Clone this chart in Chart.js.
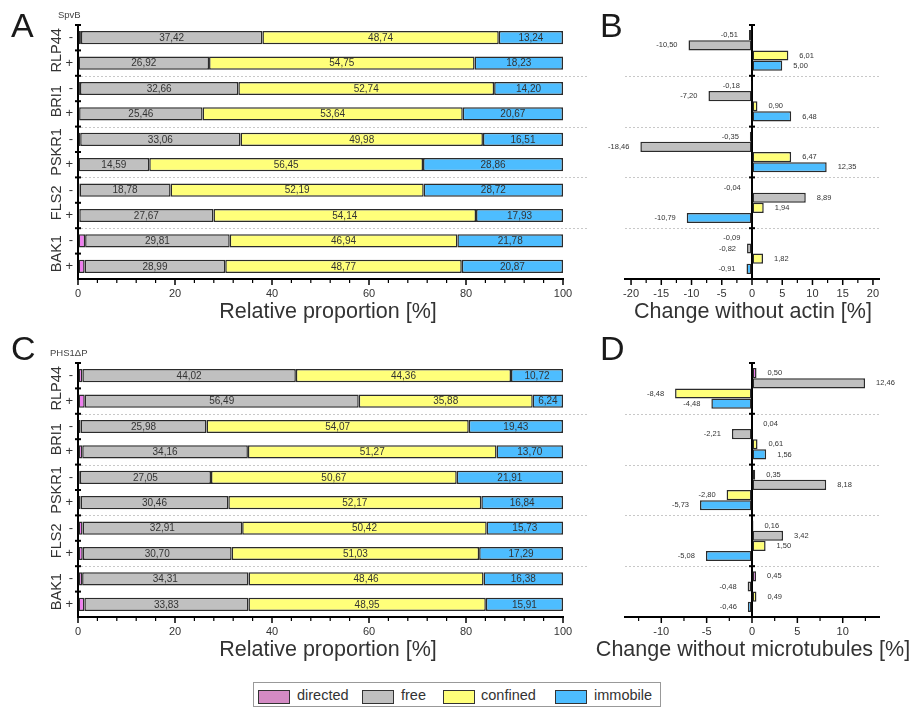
<!DOCTYPE html>
<html>
<head>
<meta charset="utf-8">
<script src="https://cdn.jsdelivr.net/npm/chart.js@4.4.1/dist/chart.umd.min.js"></script>
<style>
body{margin:0;background:#fff;font-family:'Liberation Sans',Arial,sans-serif;color:#333}
#wrap{position:relative;width:910px;height:707px;overflow:hidden;background:#fff}
canvas{position:absolute}
.letter{position:absolute;font-size:34px;line-height:34px;color:#1a1a1a}
.tag{position:absolute;font-size:9.5px;line-height:9.5px;color:#444;white-space:nowrap}
#legend{position:absolute;left:253px;top:682px;width:408px;height:25px;border:1px solid #999;box-sizing:border-box}
.sw{position:absolute;top:7px;width:32px;height:14px;border:1px solid #333;box-sizing:border-box}
.lt{position:absolute;top:3px;font-size:14.5px;line-height:18px;color:#333}
</style>
</head>
<body>
<div id="wrap">
  <canvas id="chartA" width="595" height="330" style="left:0;top:0"></canvas>
  <canvas id="chartB" width="320" height="330" style="left:590px;top:0"></canvas>
  <canvas id="chartC" width="595" height="330" style="left:0;top:338px"></canvas>
  <canvas id="chartD" width="320" height="330" style="left:590px;top:338px"></canvas>

  <div class="letter" style="left:11px;top:8px">A</div>
  <div class="letter" style="left:600px;top:8px">B</div>
  <div class="letter" style="left:11px;top:331px">C</div>
  <div class="letter" style="left:600px;top:331px">D</div>
  <div class="tag" style="left:58px;top:10px">SpvB</div>
  <div class="tag" style="left:50px;top:348px">PHS1ΔP</div>

  <div id="legend">
    <div class="sw" style="left:4px;background:#D48BC4"></div><div class="lt" style="left:43px">directed</div>
    <div class="sw" style="left:108px;background:#C0C0C0"></div><div class="lt" style="left:147px">free</div>
    <div class="sw" style="left:189px;background:#FFFF7A"></div><div class="lt" style="left:227px">confined</div>
    <div class="sw" style="left:301px;background:#4DBDFF"></div><div class="lt" style="left:340px">immobile</div>
  </div>
</div>

<script>
// groups and rows (each group has "-" and "+" rows)
var groups = ['RLP44', 'BRI1', 'PSKR1', 'FLS2', 'BAK1'];
var signs = ['-', '+'];
var seriesNames = ['directed', 'free', 'confined', 'immobile'];
var seriesColors = ['#EE7EEE', '#C0C0C0', '#FFFF7A', '#4DBDFF'];

// A - SpvB, relative proportion [%]
var spvbDirected = [0.60, 0.10, 0.40, 0.23, 0.45, 0.10, 0.31, 0.26, 1.47, 1.37];
var spvbFree = [37.42, 26.92, 32.66, 25.46, 33.06, 14.59, 18.78, 27.67, 29.81, 28.99];
var spvbConfined = [48.74, 54.75, 52.74, 53.64, 49.98, 56.45, 52.19, 54.14, 46.94, 48.77];
var spvbImmobile = [13.24, 18.23, 14.20, 20.67, 16.51, 28.86, 28.72, 17.93, 21.78, 20.87];

// B - change without actin [%]
var actinDirected = [-0.51, -0.18, -0.35, -0.04, -0.09];
var actinFree = [-10.50, -7.20, -18.46, 8.89, -0.82];
var actinConfined = [6.01, 0.90, 6.47, 1.94, 1.82];
var actinImmobile = [5.00, 6.48, 12.35, -10.79, -0.91];

// C - PHS1dP, relative proportion [%]
var phsDirected = [0.90, 1.39, 0.52, 0.87, 0.37, 0.53, 0.94, 0.98, 0.85, 1.31];
var phsFree = [44.02, 56.49, 25.98, 34.16, 27.05, 30.46, 32.91, 30.70, 34.31, 33.83];
var phsConfined = [44.36, 35.88, 54.07, 51.27, 50.67, 52.17, 50.42, 51.03, 48.46, 48.95];
var phsImmobile = [10.72, 6.24, 19.43, 13.70, 21.91, 16.84, 15.73, 17.29, 16.38, 15.91];

// D - change without microtubules [%]
var mtDirected = [0.50, 0.04, 0.35, 0.16, 0.45];
var mtFree = [12.46, -2.21, 8.18, 3.42, -0.48];
var mtConfined = [-8.48, 0.61, -2.80, 1.50, 0.49];
var mtImmobile = [-4.48, 1.56, -5.73, -5.08, -0.46];

Chart.defaults.font.family = "'Liberation Sans', Arial, sans-serif";
Chart.defaults.color = '#333';

var rows = [];
groups.forEach(function(g) { signs.forEach(function(s) { rows.push(g + ' ' + s); }); });

function fmt(v) { return v.toFixed(2).replace('.', ','); }

function makeDatasets(lists) {
	return lists.map(function(d, i) {
		return {
			label: seriesNames[i],
			data: d,
			backgroundColor: seriesColors[i],
			borderColor: '#2b2b2b',
			borderWidth: 1.5,
			borderSkipped: false
		};
	});
}

// x axis ticks: long at labelled values, short in between
function drawXTicks(chart, major) {
	var xs = chart.scales.x, ctx = chart.ctx, y = chart.chartArea.bottom;
	ctx.save();
	ctx.strokeStyle = '#000';
	xs.ticks.forEach(function(t) {
		var x = xs.getPixelForValue(t.value);
		var isMajor = Math.abs(t.value % major) < 1e-6;
		ctx.lineWidth = isMajor ? 1.5 : 1.2;
		ctx.beginPath();
		ctx.moveTo(x, y);
		ctx.lineTo(x, y + (isMajor ? 6 : 4));
		ctx.stroke();
	});
	ctx.restore();
}

function drawYTicks(chart, x, n) {
	var a = chart.chartArea, ctx = chart.ctx, h = (a.bottom - a.top) / n;
	ctx.save();
	ctx.strokeStyle = '#000';
	ctx.lineWidth = 2;
	for (var i = 0; i < n; i++) {
		var y = a.top + i * h;
		ctx.beginPath();
		ctx.moveTo(x - 3, y);
		ctx.lineTo(x + 3, y);
		ctx.stroke();
	}
	ctx.restore();
}

function drawSeparators(chart, n, every, x1, x2) {
	var a = chart.chartArea, ctx = chart.ctx, h = (a.bottom - a.top) / n;
	ctx.save();
	ctx.strokeStyle = '#c8c8c8';
	ctx.lineWidth = 1;
	ctx.setLineDash([2, 2]);
	for (var i = every; i < n; i += every) {
		var y = Math.round(a.top + i * h) + 0.5;
		ctx.beginPath();
		ctx.moveTo(x1, y);
		ctx.lineTo(x2, y);
		ctx.stroke();
	}
	ctx.restore();
}

// axis title without width squeezing
function drawAxisTitle(chart, text, x, y) {
	var ctx = chart.ctx;
	ctx.save();
	ctx.fillStyle = '#333';
	ctx.font = "21.5px 'Liberation Sans', Arial, sans-serif";
	ctx.textAlign = 'center';
	ctx.textBaseline = 'middle';
	ctx.fillText(text, x, y);
	ctx.restore();
}

var stackedDecor = {
	id: 'stackedDecor',
	beforeDatasetsDraw: function(chart) {
		var a = chart.chartArea;
		drawSeparators(chart, 10, 2, a.left + 3, a.right + 25);
	},
	afterDraw: function(chart) {
		var a = chart.chartArea, ctx = chart.ctx, h = (a.bottom - a.top) / 10;
		drawXTicks(chart, 20);
		drawYTicks(chart, a.left, 10);
		drawAxisTitle(chart, 'Relative proportion [%]', 328, a.bottom + 33);
		// group names, rotated
		ctx.save();
		ctx.fillStyle = '#333';
		ctx.font = "14.5px 'Liberation Sans', Arial, sans-serif";
		ctx.textAlign = 'center';
		ctx.textBaseline = 'middle';
		groups.forEach(function(g, i) {
			ctx.save();
			ctx.translate(56.5, a.top + (2 * i + 1) * h);
			ctx.rotate(-Math.PI / 2);
			ctx.fillText(g, 0, 0);
			ctx.restore();
		});
		// values inside segments (not for directed)
		ctx.font = "10px 'Liberation Sans', Arial, sans-serif";
		for (var d = 1; d < 4; d++) {
			var meta = chart.getDatasetMeta(d);
			var vals = chart.data.datasets[d].data;
			meta.data.forEach(function(el, i) {
				ctx.fillText(fmt(vals[i]), (el.x + el.base) / 2, el.y + 0.5);
			});
		}
		ctx.restore();
	}
};

var changeDecor = {
	id: 'changeDecor',
	beforeDatasetsDraw: function(chart) {
		var a = chart.chartArea;
		drawSeparators(chart, 5, 1, a.left, a.right);
	},
	afterDraw: function(chart) {
		var ctx = chart.ctx, a = chart.chartArea;
		var zero = chart.scales.x.getPixelForValue(0);
		drawXTicks(chart, 5);
		drawYTicks(chart, zero, 5);
		drawAxisTitle(chart, chart.options.plugins.changeDecor.title, zero + 1, a.bottom + 33);
		ctx.save();
		ctx.fillStyle = '#333';
		ctx.font = "7.5px 'Liberation Sans', Arial, sans-serif";
		ctx.textBaseline = 'middle';
		for (var d = 0; d < 4; d++) {
			var meta = chart.getDatasetMeta(d);
			var vals = chart.data.datasets[d].data;
			meta.data.forEach(function(el, i) {
				var v = vals[i];
				if (v >= 0) {
					ctx.textAlign = 'left';
					ctx.fillText(fmt(v), el.x + 11, el.y);
				} else {
					ctx.textAlign = 'right';
					ctx.fillText(fmt(v), el.x - 11, el.y);
				}
			});
		}
		ctx.restore();
	}
};

function stackedChart(id, lists) {
	return new Chart(document.getElementById(id), {
		type: 'bar',
		data: { labels: rows, datasets: makeDatasets(lists) },
		options: {
			indexAxis: 'y',
			responsive: false,
			animation: false,
			layout: { padding: { top: 25, right: 32, left: 0, bottom: 0 } },
			datasets: { bar: { categoryPercentage: 0.52, barPercentage: 1 } },
			plugins: { legend: { display: false }, tooltip: { enabled: false } },
			scales: {
				x: {
					stacked: true, min: 0, max: 100,
					border: { color: '#000', width: 2 },
					grid: { drawOnChartArea: false, drawTicks: false },
					ticks: {
						stepSize: 4, autoSkip: false, maxRotation: 0, padding: 8,
						color: '#333', font: { size: 11 },
						callback: function(v) { return v % 20 === 0 ? v : ''; }
					},
					afterFit: function(s) { s.height = 51; }
				},
				y: {
					stacked: true,
					border: { color: '#000', width: 2 },
					grid: { drawOnChartArea: false, drawTicks: false },
					ticks: {
						padding: 5, color: '#333', font: { size: 13 },
						callback: function(v) { return rows[v].split(' ')[1]; }
					},
					afterFit: function(s) { s.width = 78; }
				}
			}
		},
		plugins: [stackedDecor]
	});
}

function changeChart(id, lists, min, max, title) {
	return new Chart(document.getElementById(id), {
		type: 'bar',
		data: { labels: groups, datasets: makeDatasets(lists) },
		options: {
			indexAxis: 'y',
			responsive: false,
			animation: false,
			layout: { padding: { top: 25, right: 31, left: 35, bottom: 0 } },
			datasets: { bar: { categoryPercentage: 0.8, barPercentage: 1 } },
			plugins: { legend: { display: false }, tooltip: { enabled: false }, changeDecor: { title: title } },
			scales: {
				x: {
					min: min, max: max,
					border: { color: '#000', width: 2 },
					grid: { drawOnChartArea: false, drawTicks: false },
					ticks: {
						stepSize: 2.5, includeBounds: false, autoSkip: false, maxRotation: 0, padding: 8,
						color: '#333', font: { size: 11 },
						callback: function(v) { return Math.abs(v % 5) < 1e-6 ? v : ''; }
					},
					afterFit: function(s) { s.height = 51; }
				},
				y: {
					position: { x: 0 },
					border: { color: '#000', width: 2 },
					grid: { drawOnChartArea: false, drawTicks: false },
					ticks: { display: false }
				}
			}
		},
		plugins: [changeDecor]
	});
}

stackedChart('chartA', [spvbDirected, spvbFree, spvbConfined, spvbImmobile]);
changeChart('chartB', [actinDirected, actinFree, actinConfined, actinImmobile], -21, 21, 'Change without actin [%]');
stackedChart('chartC', [phsDirected, phsFree, phsConfined, phsImmobile]);
changeChart('chartD', [mtDirected, mtFree, mtConfined, mtImmobile], -14, 14, 'Change without microtubules [%]');
</script>
</body>
</html>
